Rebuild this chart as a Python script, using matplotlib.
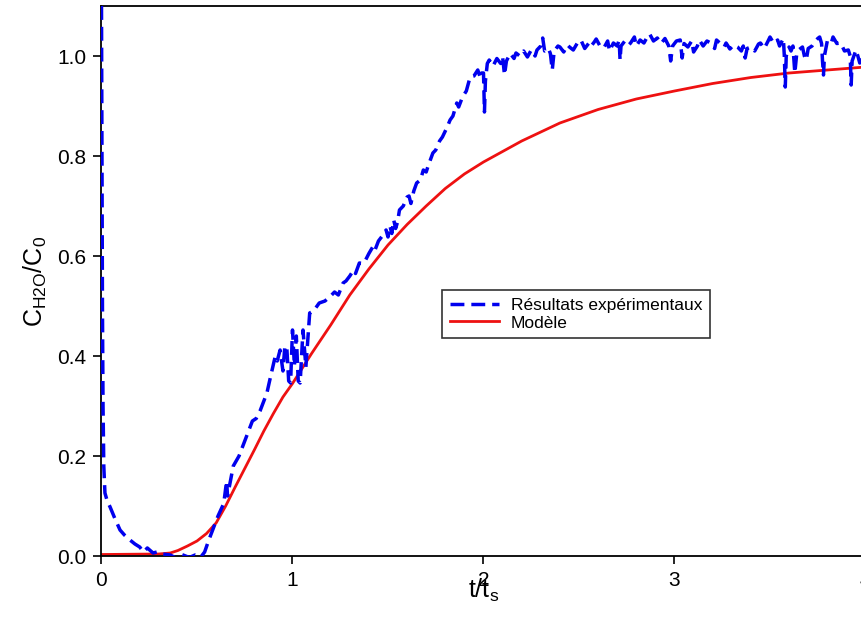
import matplotlib
matplotlib.use("Agg")
import matplotlib.pyplot as plt

plt.rcParams['font.family'] = ['Liberation Sans', 'DejaVu Sans']
plt.rcParams['mathtext.default'] = 'regular'

exp_t = [0.0, 0.002, 0.005, 0.008, 0.012, 0.018, 0.03, 0.045, 0.07, 0.097,
         0.12, 0.149, 0.175, 0.2, 0.22, 0.24, 0.27, 0.29, 0.32, 0.36,
         0.39, 0.42, 0.46, 0.49, 0.52, 0.54, 0.56, 0.58, 0.61, 0.64,
         0.655, 0.66, 0.69, 0.72, 0.74, 0.77, 0.79, 0.81, 0.83, 0.85,
         0.866, 0.88, 0.91, 0.92, 0.935, 0.95, 0.96, 0.97, 0.98, 0.99,
         1.0, 1.01, 1.02, 1.03, 1.04, 1.055, 1.07,
         1.09, 1.11, 1.14, 1.17, 1.2, 1.22, 1.24, 1.265, 1.28, 1.3,
         1.32, 1.33, 1.35, 1.37, 1.38, 1.40, 1.42, 1.43, 1.45, 1.47,
         1.49, 1.50, 1.51, 1.52, 1.53, 1.54, 1.55, 1.56, 1.58, 1.6,
         1.61, 1.62, 1.635, 1.65, 1.67, 1.685, 1.70, 1.71, 1.735, 1.75,
         1.77, 1.785, 1.80, 1.81, 1.825, 1.84, 1.86, 1.87, 1.89, 1.91,
         1.93, 1.95, 1.97, 1.985, 1.99,
         2.00, 2.005, 2.01, 2.02, 2.03, 2.05, 2.07, 2.09, 2.10, 2.11,
         2.12, 2.14, 2.16, 2.17, 2.19, 2.21, 2.23, 2.25, 2.27, 2.28,
         2.30, 2.31, 2.32, 2.34, 2.35, 2.36, 2.37, 2.39, 2.40, 2.42,
         2.44, 2.45, 2.47, 2.49, 2.51, 2.53, 2.55, 2.56, 2.58, 2.59,
         2.61, 2.63, 2.65, 2.66, 2.68, 2.70, 2.71, 2.715, 2.72, 2.74,
         2.76, 2.77, 2.79, 2.80, 2.82, 2.84, 2.86, 2.87, 2.89, 2.91,
         2.93, 2.95, 2.97, 2.98, 2.99, 3.01, 3.03, 3.04, 3.05, 3.07,
         3.09, 3.10, 3.12, 3.13, 3.15, 3.17, 3.19, 3.21, 3.22, 3.24,
         3.26, 3.27, 3.29, 3.31, 3.33, 3.35, 3.36, 3.37, 3.38, 3.40,
         3.42, 3.44, 3.45, 3.47, 3.49, 3.50, 3.52, 3.54, 3.55, 3.57,
         3.575, 3.58, 3.585, 3.60, 3.61, 3.62, 3.63, 3.64, 3.65, 3.67,
         3.68, 3.69, 3.70, 3.72, 3.73, 3.75, 3.76, 3.77, 3.775, 3.78,
         3.785, 3.80, 3.82, 3.83, 3.85, 3.87, 3.89, 3.91, 3.92, 3.925,
         3.93, 3.95, 3.96, 3.97, 3.99, 4.0]
exp_c = [1.10, 0.85, 0.5, 0.3, 0.18, 0.126, 0.11, 0.098, 0.075, 0.052,
         0.042, 0.032, 0.024, 0.018, 0.008, 0.016, 0.006, 0.008, 0.004, 0.002,
         -0.004, 0.003, -0.003, 0.002, -0.002, 0.008, 0.03, 0.05, 0.08, 0.105,
         0.15, 0.12, 0.18, 0.2, 0.22, 0.25, 0.27, 0.275, 0.29, 0.31,
         0.326, 0.35, 0.40, 0.39, 0.412, 0.37, 0.42, 0.418, 0.35, 0.346,
         0.452, 0.38, 0.44, 0.35, 0.346, 0.452, 0.378,
         0.486, 0.49, 0.506, 0.51, 0.52, 0.528, 0.522, 0.546, 0.55, 0.56,
         0.572, 0.565, 0.586, 0.585, 0.59, 0.605, 0.618, 0.61, 0.63, 0.64,
         0.652, 0.638, 0.66, 0.645, 0.672, 0.655, 0.668, 0.692, 0.7, 0.718,
         0.72, 0.705, 0.73, 0.746, 0.752, 0.772, 0.768, 0.78, 0.806, 0.812,
         0.83, 0.838, 0.85, 0.858, 0.872, 0.88, 0.906, 0.898, 0.918, 0.93,
         0.958, 0.96, 0.972, 0.955, 0.966,
         0.966, 0.888, 0.95, 0.985, 0.992, 0.98, 0.995, 0.985, 0.998, 0.962,
         0.99, 1.005, 0.995, 1.006, 1.0, 1.01, 0.998, 1.012, 1.0, 1.012,
         1.02, 1.036, 1.01, 1.015, 1.005, 0.972, 1.01, 1.02, 1.018, 1.008,
         1.022, 1.018, 1.012, 1.025, 1.032, 1.015, 1.025, 1.018, 1.028, 1.034,
         1.02, 1.016, 1.03, 1.01, 1.026, 1.02, 1.032, 0.992, 1.02, 1.03,
         1.022, 1.026, 1.038, 1.02, 1.032, 1.026, 1.04, 1.044, 1.03, 1.036,
         1.025, 1.035, 1.02, 0.99, 1.02, 1.03, 1.032, 0.996, 1.025, 1.018,
         1.03, 1.008, 1.02, 1.032, 1.02, 1.03, 1.026, 1.015, 1.032, 1.025,
         1.018, 1.026, 1.014, 1.022, 1.018, 1.01, 1.02, 0.996, 1.015, 1.018,
         1.01, 1.024, 1.026, 1.015, 1.03, 1.038, 1.025, 1.032, 1.02, 1.035,
         1.0, 0.938, 1.0, 1.018, 1.01, 1.02, 0.966, 1.005, 1.012, 1.018,
         1.0, 0.992, 1.015, 1.02, 1.026, 1.035, 1.038, 1.025, 0.99, 0.962,
         1.0, 1.03, 1.025, 1.038, 1.025, 1.026, 1.01, 1.012, 1.0, 0.942,
         0.99, 1.012, 1.0, 0.986, 1.0, 1.005]

# model curve
mod_t = [0.0, 0.3, 0.36, 0.4, 0.45, 0.5, 0.55, 0.6, 0.65, 0.7,
         0.75, 0.8, 0.85, 0.9, 0.95, 1.0, 1.1, 1.2, 1.3, 1.4,
         1.5, 1.6, 1.7, 1.8, 1.9, 2.0, 2.2, 2.4, 2.6, 2.8,
         3.0, 3.2, 3.4, 3.6, 3.8, 4.0]
mod_c = [0.003, 0.004, 0.006, 0.011, 0.02, 0.03, 0.045, 0.066, 0.1, 0.138,
         0.175, 0.212, 0.25, 0.285, 0.318, 0.345, 0.405, 0.462, 0.522, 0.574,
         0.622, 0.663, 0.7, 0.735, 0.764, 0.788, 0.83, 0.866, 0.893, 0.914,
         0.93, 0.945, 0.957, 0.966, 0.972, 0.978]

fig = plt.figure(figsize=(8.62, 6.17), dpi=100)
ax = fig.add_axes([101.5 / 862, 61 / 617, 764 / 862, 550 / 617])

ax.plot(exp_t, exp_c, color='#0000ee', lw=2.5, ls=(0, (4, 2)),
        label='Résultats expérimentaux', zorder=3)
ax.plot(mod_t, mod_c, color='#ee1111', lw=2, label='Modèle', zorder=2)

ax.set_xlim(0, 4)
ax.set_ylim(0, 1.1)
ax.set_xticks([0, 1, 2, 3, 4])
ax.set_yticks([0.0, 0.2, 0.4, 0.6, 0.8, 1.0])
ax.set_yticklabels(['0.0', '0.2', '0.4', '0.6', '0.8', '1.0'])
ax.tick_params(direction='out', length=6, width=1.2, labelsize=15, pad=5,
               top=False, right=False)
for s in ax.spines.values():
    s.set_linewidth(1.3)

ax.set_xlabel('t/t$_s$', fontsize=18, labelpad=-10)
ax.set_ylabel('C$_{H2O}$/C$_0$', fontsize=18, labelpad=6)

leg = ax.legend(loc='upper left', bbox_to_anchor=(0.446, 0.484), fontsize=12.5,
                frameon=True, fancybox=False, edgecolor='black',
                handlelength=2.8, handletextpad=0.7, borderpad=0.45,
                labelspacing=0.15, borderaxespad=0)
leg.get_frame().set_linewidth(1.2)

fig.savefig('out.png', dpi=100)
